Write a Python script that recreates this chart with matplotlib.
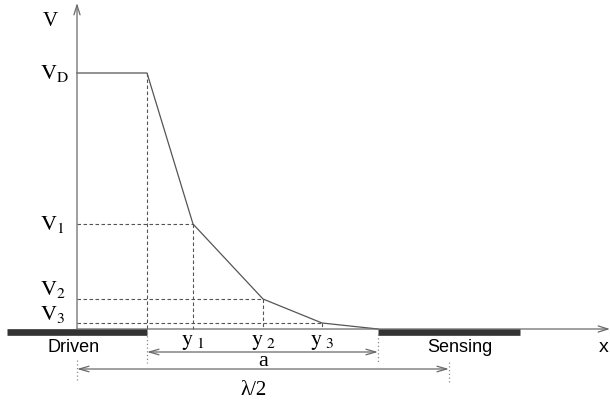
import numpy as np
import matplotlib.pyplot as plt

# knots of the potential profile (x position, potential), origin = axis crossing
knot_x = [0, 70, 116, 186, 245, 301]
knot_v = [256, 256, 105, 30, 6, 0]

v_labels = ['D', '1', '2', '3']        # V_D, V_1, V_2, V_3 at knots 1..4
y_labels = ['1', '2', '3']             # y_1, y_2, y_3 at knots 2..4

driven = [-70, 70]
sensing = [301, 443]
a_span = [70, 301]
half_lambda = [0, 372]

line_c = '#555555'
axis_c = '#6a6a6a'
bar_c = '#333333'
serif = 'Liberation Serif'
sans = 'Liberation Sans'
plt.rcParams['mathtext.fontset'] = 'stix'

fig = plt.figure(figsize=(6.1, 4.08), dpi=100)
ax = fig.add_axes([0, 0, 1, 1])
ax.set_xlim(-77, 533)
ax.set_ylim(-79, 329)
ax.axis('off')

# axes with open arrow heads
arr = dict(arrowstyle='->,head_length=0.7,head_width=0.22', color=axis_c, lw=0.9,
           shrinkA=0, shrinkB=0)
ax.annotate('', xy=(0, 326), xytext=(0, 0), arrowprops=arr)
ax.annotate('', xy=(533, 0), xytext=(0, 0), arrowprops=arr)

# electrodes
ax.plot(driven, [-2.5, -2.5], color=bar_c, lw=4.8, solid_capstyle='butt')
ax.plot(sensing, [-2.5, -2.5], color=bar_c, lw=4.8, solid_capstyle='butt')

# potential curve
ax.plot(knot_x, knot_v, color=line_c, lw=0.9)

# dashed guides
dash = dict(color=line_c, lw=0.8, ls=(0, (3.2, 2.2)))
ax.plot([knot_x[1], knot_x[1]], [knot_v[1], 0], **dash)
for i in range(2, 5):
    ax.plot([0, knot_x[i]], [knot_v[i], knot_v[i]], **dash)
    ax.plot([knot_x[i], knot_x[i]], [knot_v[i], 0], **dash)

# dotted extension lines below the axis
dot = dict(color='#888888', lw=0.9, ls=(0, (1, 2)))
ax.plot([a_span[0], a_span[0]], [-3, -34], **dot)
ax.plot([a_span[1], a_span[1]], [-5, -34], **dot)
ax.plot([half_lambda[0], half_lambda[0]], [-31, -53], **dot)
ax.plot([half_lambda[1], half_lambda[1]], [-33, -53], **dot)

# dimension arrows
darr = dict(arrowstyle='<->,head_length=0.7,head_width=0.2', color=axis_c, lw=0.9,
            shrinkA=0, shrinkB=0)
ax.annotate('', xy=(a_span[1], -23), xytext=(a_span[0], -23), arrowprops=darr)
ax.annotate('', xy=(half_lambda[1], -40), xytext=(half_lambda[0], -40), arrowprops=darr)
ax.text(np.mean(a_span) + 1, -37, 'a', family=serif, fontsize=16, ha='center', va='baseline')
ax.text(np.mean(half_lambda) - 9, -66, 'λ/2', family=[serif, 'DejaVu Serif'], fontsize=15,
        ha='center', va='baseline')

# potential labels
ax.text(-27, 303, 'V', family=serif, fontsize=15, ha='center', va='baseline')
v_offset = [-6, -6, 4, 3]
for lab, v, off in zip(v_labels, knot_v[1:5], v_offset):
    ax.text(-37, v + off, r'$\mathrm{V}_{\mathrm{' + lab + '}}$', fontsize=16,
            ha='left', va='baseline')

# position labels
for lab, x in zip(y_labels, knot_x[2:5]):
    ax.text(x, -3, r'$\mathrm{y}_{\ ' + lab + '}$', fontsize=16, ha='center', va='top')

ax.text(-3, -23, 'Driven', family=sans, fontsize=13, ha='center', va='baseline')
ax.text(383, -23, 'Sensing', family=sans, fontsize=13, ha='center', va='baseline')
ax.text(527, -23, 'x', family=sans, fontsize=14, ha='center', va='baseline')

fig.savefig('out.png', dpi=100)
